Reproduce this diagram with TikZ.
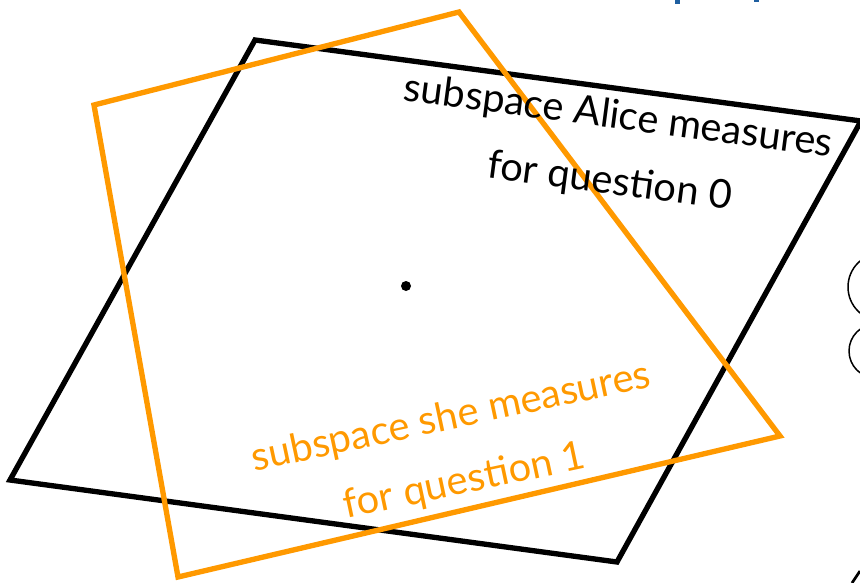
\documentclass[tikz,border=0pt]{standalone}
\usepackage{fontspec}
\setmainfont{Lato}
\usepackage{tikz}
\usetikzlibrary{positioning}
\usepackage{xcolor}
\definecolor{qorange}{HTML}{FF9900}
\definecolor{qblue}{HTML}{1F5FA0}

\begin{document}
\begin{tikzpicture}[
        x=0.03cm, y=-0.03cm,
        plane/.style={draw=black, line width=0.16cm, line join=miter},
        oplane/.style={draw=qorange, line width=0.16cm, line join=miter},
        lbl/.style={align=center, font=\fontsize{34}{56}\selectfont, inner sep=0pt}
      ]
      \useasboundingbox (0,0) rectangle (860,582);
      \clip (0,0) rectangle (860,582);
      % subspace for question 0
      \coordinate (a1) at (255,40);
      \coordinate (a2) at (861,121);
      \coordinate (a3) at (617,562);
      \coordinate (a4) at (10,480);
      \draw[plane] (a1) -- (a2) -- (a3) -- (a4) -- cycle;
      % subspace for question 1
      \coordinate (b1) at (459,12);
      \coordinate (b2) at (780,436);
      \coordinate (b3) at (178,577);
      \coordinate (b4) at (94,105);
      \draw[oplane] (b1) -- (b2) -- (b3) -- (b4) -- cycle;

      \node[lbl, rotate=-7.5] (alice) at (614,150) {subspace Alice measures\\for question 0};
      \node[lbl, rotate=12, text=qorange] (she) at (458,450) {subspace she measures\\for question 1};

      \fill (406,286) circle (0.15cm);

      % bits at the border
      \draw[line width=0.045cm] (882,287) circle (34);
      \draw[line width=0.045cm] (876,351) circle (27);
      \draw[line width=0.08cm] (852,583) -- (860,571);
      \fill[qblue] (675,0) rectangle (680,4);
      \fill[qblue] (754,0) rectangle (759,2);
\end{tikzpicture}
\end{document}
